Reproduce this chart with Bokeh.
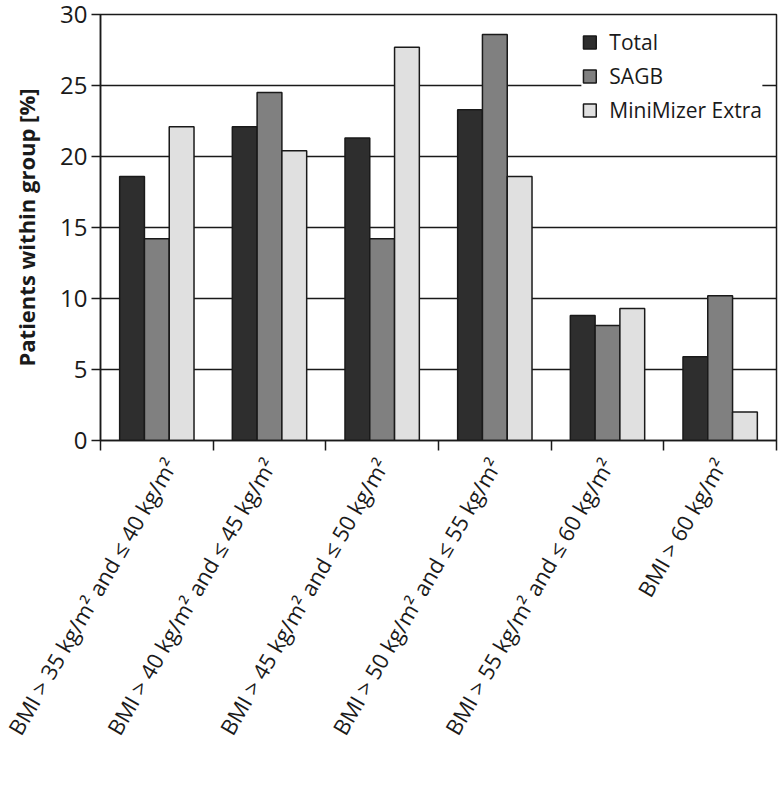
import math
from bokeh.plotting import figure
from bokeh.models import Range1d, FixedTicker, Legend, LegendItem, ColumnDataSource
from bokeh.embed import file_html
from bokeh.resources import INLINE

categories = [
    "BMI > 35 kg/m² and ≤ 40 kg/m²",
    "BMI > 40 kg/m² and ≤ 45 kg/m²",
    "BMI > 45 kg/m² and ≤ 50 kg/m²",
    "BMI > 50 kg/m² and ≤ 55 kg/m²",
    "BMI > 55 kg/m² and ≤ 60 kg/m²",
    "BMI > 60 kg/m²",
]
series_names = ["Total", "SAGB", "MiniMizer Extra"]
total = [18.6, 22.1, 21.3, 23.3, 8.8, 5.9]
sagb = [14.2, 24.5, 14.2, 28.6, 8.1, 10.2]
minimizer = [22.1, 20.4, 27.7, 18.6, 9.3, 2.0]
y_ticks = [0, 5, 10, 15, 20, 25, 30]

series_values = [total, sagb, minimizer]
colors = ["#2e2e2e", "#808080", "#e0e0e0"]
FONT = "Open Sans"
INK = "#1a1a1a"

p = figure(frame_width=676, frame_height=426, output_backend="svg", toolbar_location=None,
           x_range=Range1d(0, len(categories)), y_range=Range1d(0, 30),
           min_border_left=100, min_border_right=4, min_border_top=14, min_border_bottom=0)

centers = [i + 0.5 for i in range(len(categories))]
bw = 0.22
offsets = [-bw, 0.0, bw]
items = []
for name, vals, col, off in zip(series_names, series_values, colors, offsets):
    src = ColumnDataSource(dict(x=[c + off for c in centers], top=vals))
    r = p.vbar(x="x", top="top", width=bw, bottom=0, source=src,
               fill_color=col, line_color=INK, line_width=1.5)
    items.append(LegendItem(label=name, renderers=[r]))

# x axis
xa = p.xaxis[0]
xa.ticker = FixedTicker(ticks=centers, minor_ticks=list(range(len(categories) + 1)))
xa.major_label_overrides = {c: lab for c, lab in zip(centers, categories)}
xa.major_tick_out = 0
xa.major_tick_in = 0
xa.minor_tick_out = 10
xa.minor_tick_in = 0
xa.minor_tick_line_color = INK
xa.minor_tick_line_width = 1.5
xa.axis_line_color = INK
xa.axis_line_width = 1.5
xa.major_label_orientation = math.pi / 3
xa.major_label_text_font = FONT
xa.major_label_text_font_size = "22px"
xa.major_label_text_color = INK
xa.major_label_standoff = 10

# y axis
ya = p.yaxis[0]
ya.ticker = FixedTicker(ticks=y_ticks)
ya.minor_tick_line_color = None
ya.major_tick_out = 9
ya.major_tick_in = 0
ya.major_tick_line_color = INK
ya.major_tick_line_width = 1.5
ya.axis_line_color = INK
ya.axis_line_width = 1.5
ya.major_label_text_font = FONT
ya.major_label_text_font_size = "24px"
ya.major_label_text_color = INK
ya.major_label_standoff = 4
ya.axis_label = "Patients within group [%]"
ya.axis_label_text_font = FONT
ya.axis_label_text_font_size = "22px"
ya.axis_label_text_font_style = "bold"
ya.axis_label_text_color = INK
ya.axis_label_standoff = 16

p.xgrid.grid_line_color = None
p.ygrid.ticker = FixedTicker(ticks=y_ticks)
p.ygrid.grid_line_color = INK
p.ygrid.grid_line_width = 1.5
p.outline_line_color = INK
p.outline_line_width = 1.5
p.background_fill_color = "white"

legend = Legend(items=items, orientation="vertical", location="top_right",
                label_text_font=FONT, label_text_font_size="21px",
                label_text_color=INK, glyph_width=16, glyph_height=16,
                spacing=6, label_standoff=12, border_line_color=None,
                background_fill_color="white", background_fill_alpha=1.0,
                padding=8, margin=14)
p.add_layout(legend, "center")

open("out.html", "w").write(file_html(p, INLINE))
